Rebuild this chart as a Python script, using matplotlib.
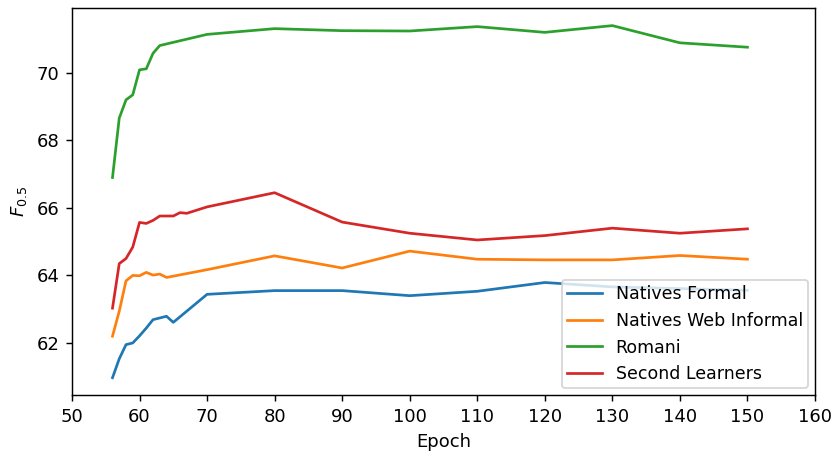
import matplotlib
matplotlib.use("Agg")
import matplotlib.pyplot as plt

# values
epochs_formal = [56, 57, 58, 59, 60, 61, 62, 63, 64, 65, 70, 80, 90, 100, 110, 120, 130, 140, 150]
natives_formal = [60.96, 61.52, 61.94, 61.99, 62.20, 62.43, 62.68, 62.73, 62.78, 62.60,
                  63.43, 63.54, 63.54, 63.39, 63.52, 63.78, 63.65, 63.60, 63.55]

epochs_web = [56, 57, 58, 59, 60, 61, 62, 63, 64, 70, 80, 90, 100, 110, 120, 130, 140, 150]
natives_web = [62.19, 62.93, 63.83, 63.99, 63.98, 64.08, 64.00, 64.03, 63.93,
               64.16, 64.57, 64.21, 64.71, 64.47, 64.45, 64.45, 64.58, 64.47]

epochs_romani = [56, 57, 58, 59, 60, 61, 62, 63, 70, 80, 90, 100, 110, 120, 130, 140, 150]
romani = [66.89, 68.65, 69.19, 69.34, 70.08, 70.11, 70.57, 70.80,
          71.13, 71.30, 71.24, 71.23, 71.36, 71.19, 71.39, 70.88, 70.75]

epochs_second = [56, 57, 58, 59, 60, 61, 62, 63, 64, 65, 66, 67, 70, 80, 90, 100, 110, 120, 130, 140, 150]
second_learners = [63.02, 64.34, 64.49, 64.83, 65.56, 65.53, 65.62, 65.75, 65.75, 65.75, 65.85, 65.83,
                   66.02, 66.44, 65.57, 65.24, 65.04, 65.17, 65.39, 65.24, 65.37]

x_ticks = list(range(50, 161, 10))

fig = plt.figure(figsize=(834 / 130, 452 / 130), dpi=130)
ax = fig.add_axes([0.0863, 0.1254, 0.8909, 0.8569])

ax.plot(epochs_formal, natives_formal, label="Natives Formal", color="#1f77b4")
ax.plot(epochs_web, natives_web, label="Natives Web Informal", color="#ff7f0e")
ax.plot(epochs_romani, romani, label="Romani", color="#2ca02c")
ax.plot(epochs_second, second_learners, label="Second Learners", color="#d62728")

ax.set_xlim(50, 160)
ax.set_xticks(x_ticks)
ax.set_xlabel("Epoch")
ax.set_ylabel("$F_{0.5}$")
ax.legend(loc="lower right", fontsize=9.6, borderaxespad=0.4, borderpad=0.3)

fig.savefig("out.png", dpi=130)
